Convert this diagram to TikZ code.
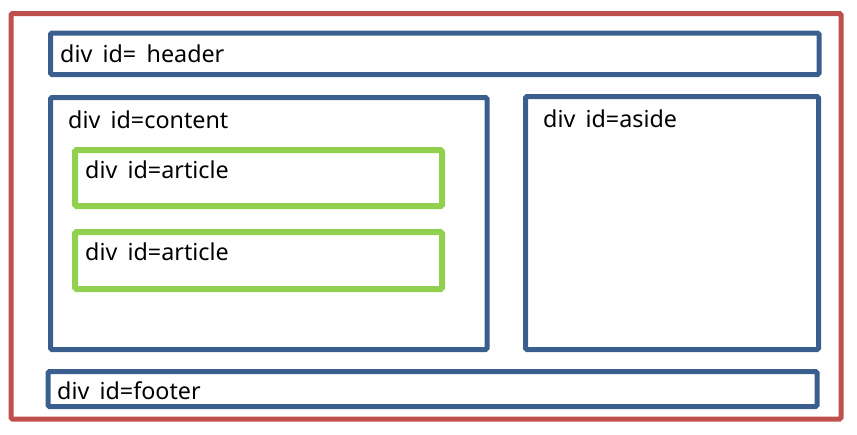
\documentclass[tikz,border=0pt]{standalone}
\usepackage{fontspec}
\setmainfont{Noto Sans}[WordSpace=1.7]
\usepackage{tikz}

\definecolor{pagered}{HTML}{C0504D}
\definecolor{divblue}{HTML}{3A5F8F}
\definecolor{artgreen}{HTML}{92D050}

\begin{document}
\begin{tikzpicture}[x=1pt,y=-1pt,
    redbox/.style={draw=pagered,line width=5pt,rounded corners=1.5pt},
    bluebox/.style={draw=divblue,line width=5pt,rounded corners=1.5pt},
    greenbox/.style={draw=artgreen,line width=6pt,rounded corners=1.5pt},
    lbl/.style={anchor=base west,inner sep=0pt,font=\fontsize{23.3}{27}\selectfont}]
	\useasboundingbox (0,0) rectangle (857,434);
	% page
	\draw[redbox] (11,13.5) rectangle (841,419);
	% header
	\draw[bluebox] (50.5,33) rectangle (819,74.5);
	\node[lbl] (header) at (60,62) {div id= header};
	% content
	\draw[bluebox] (50.5,97.5) rectangle (487,349.5);
	\node[lbl] (content) at (68,128) {div id=content};
	% articles
	\draw[greenbox] (75,150) rectangle (442,206);
	\node[lbl] (article1) at (85,178) {div id=article};
	\draw[greenbox] (75,232) rectangle (442,289);
	\node[lbl] (article2) at (85,260) {div id=article};
	% aside
	\draw[bluebox] (525.5,96.5) rectangle (818.5,349.5);
	\node[lbl] (aside) at (543,127) {div id=aside};
	% footer
	\draw[bluebox] (48,371.5) rectangle (817,406.5);
	\node[lbl] (footer) at (57,399) {div id=footer};
\end{tikzpicture}
\end{document}
